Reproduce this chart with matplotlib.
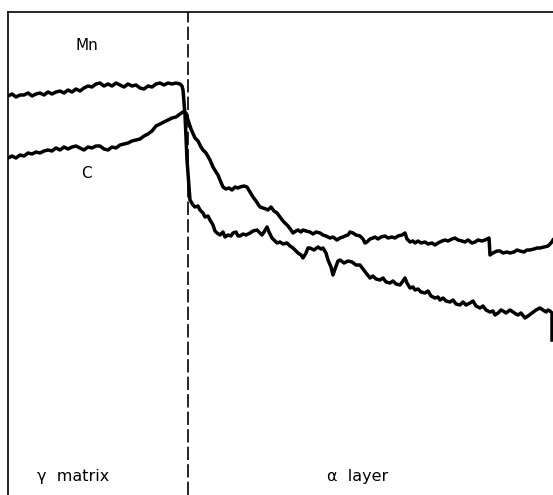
import matplotlib
matplotlib.use("Agg")
import matplotlib.pyplot as plt

# microprobe line scan across the gamma / alpha interface
# x: distance (arbitrary units), y: signal intensity (arbitrary units)
mn_x = [0.0, 0.4, 0.8, 1.2, 1.6, 2.0, 2.4, 2.8, 3.2, 3.6, 4.0, 4.4, 4.8, 5.2, 5.6,
        6.0, 6.4, 6.8, 7.2, 7.6, 8.0, 8.4, 8.8, 9.2, 9.6, 10.0, 10.4, 10.8, 11.2,
        11.6, 12.0, 12.4, 12.8, 13.2, 13.6, 14.0, 14.4, 14.8, 15.2, 15.6, 16.0,
        16.4, 16.8, 17.2, 17.4, 17.5, 17.7, 17.9,
        18.2, 18.5, 18.7, 19.0, 19.2, 19.5, 19.7, 20.0, 20.2, 20.5, 20.7, 20.9, 21.2,
        21.5, 21.7, 22.0, 22.3, 22.5, 22.8, 23.0, 23.2, 23.5, 23.8, 24.2, 24.5, 24.9,
        25.2, 25.4, 25.6, 25.9, 26.1, 26.4, 26.7, 26.9, 27.2, 27.5, 27.9, 28.2, 28.5,
        28.7, 29.0, 29.3, 29.5, 29.8, 30.0, 30.2, 30.6, 31.0, 31.3, 31.5, 31.8, 32.0,
        32.3, 32.5, 32.7, 33.0, 33.2, 33.6, 34.0, 34.4, 34.8, 35.2, 35.5, 35.8, 36.2,
        36.5, 36.8, 37.2, 37.5, 37.8, 38.2, 38.5, 38.8, 39.2, 39.5, 39.7, 39.9, 40.2,
        40.5, 40.7, 41.0, 41.3, 41.7, 42.0, 42.3, 42.7, 43.0, 43.2, 43.5, 43.8, 44.2,
        44.5, 44.8, 45.2, 45.5, 45.8, 46.2, 46.5, 46.8, 47.2, 47.5, 47.8, 48.2, 48.5,
        48.7, 49.0, 49.3, 49.5, 49.8, 50.2, 50.5, 50.8, 51.0, 51.3, 51.7, 52.0, 52.4,
        52.8, 53.2, 53.5, 53.8, 54.0, 54.2, 54.4, 54.4]
mn_y = [39.9, 40.1, 39.8, 40.0, 40.0, 40.2, 39.9, 40.1, 40.2, 40.0, 40.3, 40.1, 40.3,
        40.4, 40.2, 40.5, 40.3, 40.6, 40.4, 40.7, 40.9, 40.8, 41.1, 41.2, 40.9, 41.1,
        40.9, 41.2, 41.0, 40.8, 41.1, 40.9, 41.0, 40.7, 40.6, 40.9, 40.8, 41.1, 41.2,
        41.0, 41.2, 41.1, 41.2, 41.1, 40.9, 40.5, 38.0, 33.5,
        29.5, 29.0, 28.8, 28.9, 28.5, 28.2, 27.8, 27.9, 27.5, 27.0, 26.4, 26.2, 26.0,
        26.3, 25.8, 26.0, 25.9, 26.2, 26.3, 25.9, 25.9, 26.1, 26.0, 26.2, 26.4, 26.5,
        26.2, 26.0, 26.3, 26.8, 26.3, 25.7, 25.4, 25.2, 25.3, 25.1, 25.2, 24.9, 24.7,
        24.5, 24.2, 24.0, 23.7, 24.2, 24.7, 24.7, 24.5, 24.8, 24.6, 24.7, 24.2, 23.5,
        22.8, 22.0, 22.6, 23.4, 23.5, 23.2, 23.4, 23.3, 23.0, 23.0, 22.6, 22.2, 21.7,
        21.9, 21.6, 21.5, 21.7, 21.3, 21.2, 21.4, 21.1, 21.0, 21.4, 21.7, 21.2, 20.7,
        20.8, 20.5, 20.6, 20.3, 20.2, 20.4, 19.9, 19.7, 19.8, 19.5, 19.7, 19.4, 19.3,
        19.5, 19.1, 19.0, 19.3, 19.0, 19.2, 19.4, 18.9, 18.7, 18.9, 18.5, 18.3, 18.4,
        18.0, 18.2, 18.5, 18.4, 18.2, 18.5, 18.3, 18.1, 18.0, 18.2, 17.7, 17.9, 18.2,
        18.5, 18.7, 18.5, 18.3, 18.5, 18.4, 18.2, 15.5]

c_x = [0.0, 0.4, 0.8, 1.2, 1.6, 2.0, 2.4, 2.8, 3.2, 3.6, 4.0, 4.4, 4.8, 5.2, 5.6,
       6.0, 6.4, 6.8, 7.2, 7.6, 8.0, 8.4, 8.8, 9.2, 9.6, 10.0, 10.4, 10.8, 11.2,
       11.6, 12.0, 12.4, 12.8, 13.2, 13.6, 14.0, 14.4, 14.8, 15.2, 15.6, 16.0, 16.4,
       16.8, 17.2, 17.5, 17.8,
       18.0, 18.3, 18.7, 19.0, 19.3, 19.5, 19.8, 20.2, 20.5, 20.8, 21.0, 21.2, 21.5,
       21.8, 22.1, 22.4, 22.7, 23.0, 23.2, 23.6, 23.9, 24.2, 24.5, 24.8, 25.2, 25.5,
       25.8, 26.0, 26.3, 26.6, 26.9, 27.2, 27.5, 27.7, 28.0, 28.3, 28.5, 28.8, 29.0,
       29.3, 29.5, 29.8, 30.2, 30.5, 30.8, 31.2, 31.5, 31.8, 32.2, 32.5, 32.9, 33.2,
       33.5, 33.7, 34.0, 34.2, 34.5, 34.8, 35.2, 35.5, 35.7, 35.9, 36.2, 36.5, 36.7,
       37.0, 37.3, 37.7, 38.0, 38.4, 38.7, 39.0, 39.4, 39.7, 39.9, 40.2, 40.5, 40.7,
       41.0, 41.3, 41.7, 42.0, 42.4, 42.7, 43.0, 43.4, 43.7, 44.0, 44.4, 44.7, 45.0,
       45.4, 45.7, 46.0, 46.4, 46.7, 47.0, 47.4, 47.7, 48.1, 48.2, 48.5, 48.9, 49.2,
       49.5, 49.9, 50.2, 50.6, 50.9, 51.2, 51.6, 51.9, 52.2, 52.6, 52.9, 53.2, 53.6,
       54.0, 54.3, 54.5]
c_y = [33.7, 33.9, 33.7, 34.0, 33.9, 34.2, 34.1, 34.3, 34.2, 34.4, 34.5, 34.4, 34.7,
       34.5, 34.8, 34.6, 34.8, 34.9, 34.7, 34.5, 34.8, 34.7, 34.9, 34.9, 34.6, 34.5,
       34.8, 34.7, 35.0, 35.1, 35.2, 35.4, 35.5, 35.6, 35.9, 36.1, 36.4, 36.9, 37.1,
       37.3, 37.5, 37.7, 37.8, 38.1, 38.3, 38.2,
       37.5, 36.6, 35.7, 35.4, 34.8, 34.5, 34.2, 33.5, 32.8, 32.3, 32.0, 31.5, 30.8,
       30.6, 30.7, 30.5, 30.8, 30.7, 30.8, 30.9, 30.8, 30.3, 29.8, 29.4, 28.8, 28.7,
       28.6, 28.5, 28.8, 28.4, 28.2, 27.8, 27.4, 27.2, 26.9, 26.5, 26.2, 26.4, 26.5,
       26.3, 26.5, 26.4, 26.3, 26.1, 26.3, 26.2, 26.0, 25.9, 25.7, 25.8, 25.5, 25.7,
       25.8, 25.9, 26.0, 26.3, 26.2, 26.0, 25.9, 25.6, 25.2, 25.3, 25.6, 25.7, 25.8,
       25.6, 25.8, 25.9, 25.7, 25.8, 25.7, 25.9, 26.0, 26.2, 25.6, 25.3, 25.4, 25.2,
       25.4, 25.2, 25.3, 25.1, 25.2, 25.0, 25.2, 25.4, 25.5, 25.4, 25.6, 25.7, 25.5,
       25.4, 25.3, 25.5, 25.2, 25.3, 25.5, 25.4, 25.5, 25.7, 24.0, 24.2, 24.4, 24.4,
       24.2, 24.3, 24.2, 24.3, 24.5, 24.4, 24.3, 24.5, 24.5, 24.6, 24.7, 24.7, 24.8,
       24.9, 25.2, 25.5]

labels = ["Mn", "C"]
regions = ["\u03b3  matrix", "\u03b1  layer"]
interface = 18.0

fig = plt.figure(figsize=(5.53, 4.95), dpi=100)
ax = fig.add_axes([8 / 553, 0, 545 / 553, 483 / 495])
ax.set_xlim(0, 54.5)
ax.set_ylim(0, 48.3)

ax.plot(mn_x, mn_y, color="black", lw=2.5, solid_joinstyle="round")
ax.plot(c_x, c_y, color="black", lw=2.5, solid_joinstyle="round")
ax.axvline(interface, color="black", lw=1.2, linestyle=(0, (8, 2.5)))

ax.text(7.9, 45.0, labels[0], fontsize=11, ha="center", va="center")
ax.text(7.8, 32.2, labels[1], fontsize=11, ha="center", va="center")
ax.text(6.5, 1.8, regions[0], fontsize=11.5, ha="center", va="center")
ax.text(35.0, 1.8, regions[1], fontsize=11.5, ha="center", va="center")

for side in ["right", "bottom"]:
    ax.spines[side].set_visible(False)
for side in ["left", "top"]:
    ax.spines[side].set_linewidth(1.2)
ax.set_xticks([])
ax.set_yticks([])

fig.savefig("out.png", dpi=100)
